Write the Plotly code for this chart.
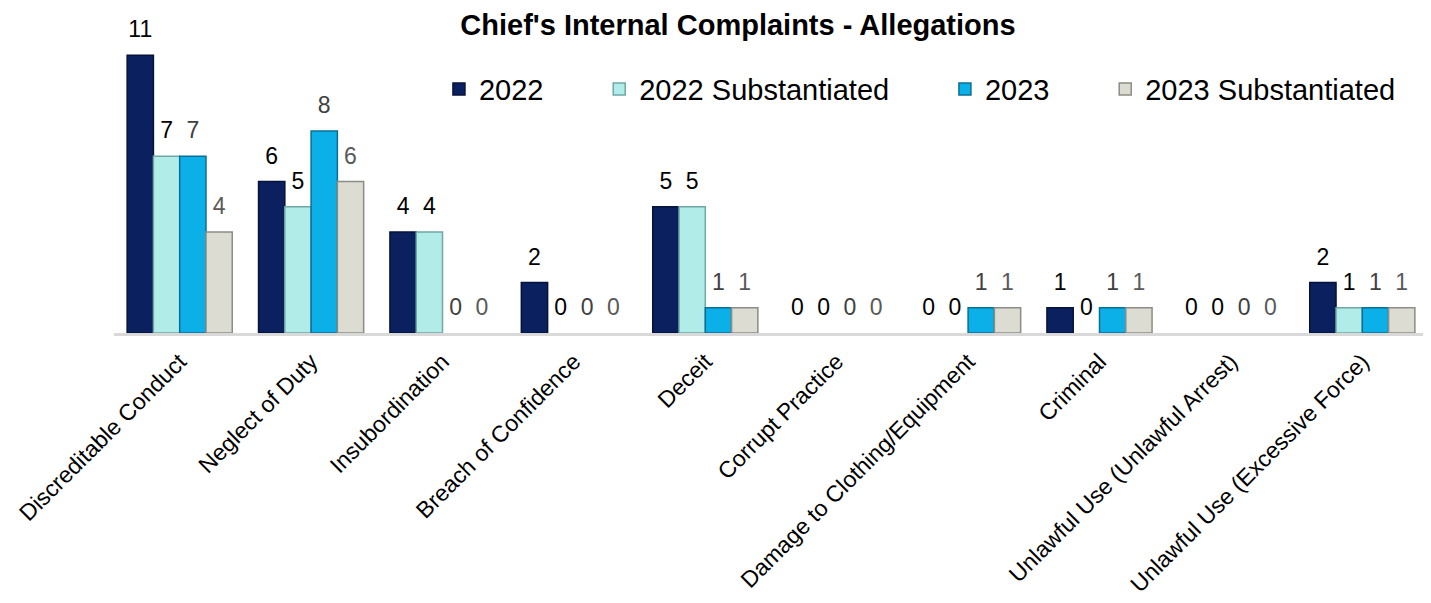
import plotly.graph_objects as go

categories = ["Discreditable Conduct", "Neglect of Duty", "Insubordination", "Breach of Confidence",
              "Deceit", "Corrupt Practice", "Damage to Clothing/Equipment", "Criminal",
              "Unlawful Use (Unlawful Arrest)", "Unlawful Use (Excessive Force)"]
v2022 = [11, 6, 4, 2, 5, 0, 0, 1, 0, 2]
v2022_sub = [7, 5, 4, 0, 5, 0, 0, 0, 0, 1]
v2023 = [7, 8, 0, 0, 1, 0, 1, 1, 0, 1]
v2023_sub = [4, 6, 0, 0, 1, 0, 1, 1, 0, 1]

series = [
    ("2022", v2022, "#0b215f", "#06123a", "#000000"),
    ("2022 Substantiated", v2022_sub, "#b2ece8", "#6fa8a6", "#000000"),
    ("2023", v2023, "#0cb0e8", "#0a6f92", "#404040"),
    ("2023 Substantiated", v2023_sub, "#dcdcd2", "#8c8c84", "#595959"),
]

FONT = "Arial, Liberation Sans, sans-serif"
pad = "\u00a0" * 6 + "\u200a"

fig = go.Figure()
for i, (name, vals, col, edge, tcol) in enumerate(series):
    fig.add_trace(go.Bar(
        x=categories, y=vals, name=(name + pad) if i < 3 else name,
        marker=dict(color=col, line=dict(color=edge, width=[1.5 if v else 0 for v in vals])),
        hoverinfo="skip",
    ))
for i, (name, vals, col, edge, tcol) in enumerate(series):
    fig.add_trace(go.Scatter(
        x=categories, y=vals, mode="markers+text", text=[str(v) for v in vals],
        textposition="top center", textfont=dict(size=23, color=tcol, family=FONT),
        marker=dict(size=18, opacity=0), showlegend=False, hoverinfo="skip",
        cliponaxis=False,
    ))

fig.update_layout(
    width=1423, height=595,
    margin=dict(l=106, r=3, t=22, b=270, autoexpand=False),
    paper_bgcolor="white", plot_bgcolor="white",
    barmode="group", bargap=0.2, bargroupgap=0,
    scattermode="group", scattergap=0.2,
    font=dict(family=FONT, color="#000000"),
    title=dict(text="<b>Chief's Internal Complaints - Allegations</b>",
               font=dict(size=29, family=FONT, color="#000000"),
               x=0.513, xanchor="center", xref="container",
               y=0.9725, yanchor="middle", yref="container"),
    legend=dict(orientation="h", x=0.2473, xanchor="left", y=0.805, yanchor="middle",
                font=dict(size=29, family=FONT, color="#000000"),
                bgcolor="rgba(0,0,0,0)"),
    xaxis=dict(showgrid=False, showline=True, linecolor="#d9d9d9", linewidth=3,
               tickangle=-45, tickfont=dict(size=23, family=FONT, color="#000000"),
               ticks="outside", ticklen=3, tickcolor="rgba(0,0,0,0)", zeroline=False),
    yaxis=dict(range=[0, 12], visible=False, showgrid=False, zeroline=False),
)

fig.write_html("out.html")
